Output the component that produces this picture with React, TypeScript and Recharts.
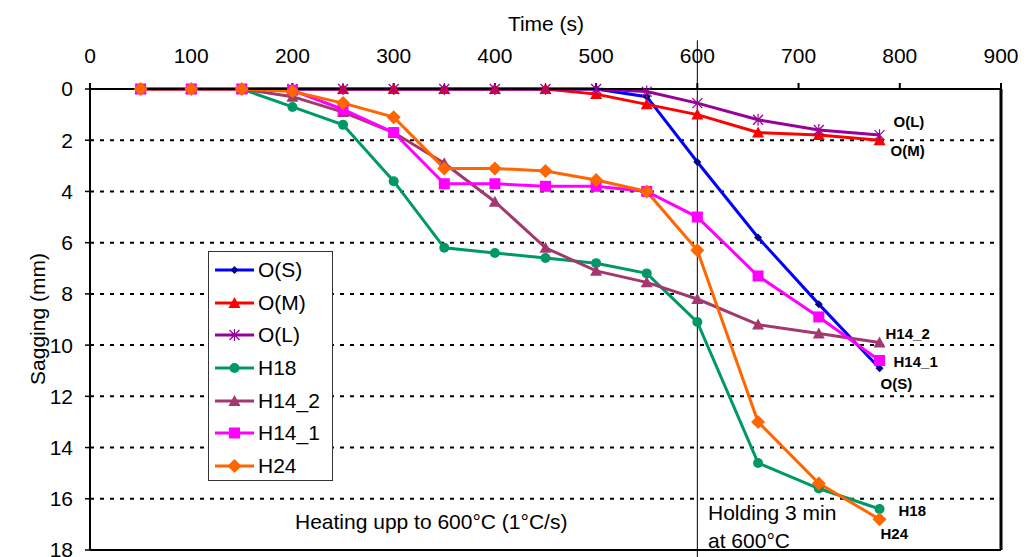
import React from "react";
import { LineChart, Line, XAxis, YAxis, ReferenceLine, LabelList } from "recharts";

const times = [50, 100, 150, 200, 250, 300, 350, 400, 450, 500, 550, 600, 660, 720, 780];
const oS = [0, 0, 0, 0, 0, 0, 0, 0, 0, 0, 0.3, 2.85, 5.8, 8.4, 10.9];
const oM = [0, 0, 0, 0, 0, 0, 0, 0, 0, 0.2, 0.6, 1.0, 1.7, 1.8, 2.0];
const oL = [0, 0, 0, 0, 0, 0, 0, 0, 0, 0, 0.1, 0.55, 1.2, 1.6, 1.8];
const h18 = [0, 0, 0, 0.7, 1.4, 3.6, 6.2, 6.4, 6.6, 6.8, 7.2, 9.1, 14.6, 15.6, 16.4];
const h14_2 = [0, 0, 0, 0.3, 0.9, 1.7, 2.9, 4.4, 6.2, 7.1, 7.55, 8.2, 9.2, 9.55, 9.9];
const h14_1 = [0, 0, 0, 0.05, 0.8, 1.7, 3.7, 3.7, 3.8, 3.8, 4.0, 5.0, 7.3, 8.9, 10.6];
const h24 = [0, 0, 0, 0.1, 0.55, 1.1, 3.1, 3.1, 3.2, 3.55, 4.0, 6.3, 13.0, 15.4, 16.8];

const xTicks = [0, 100, 200, 300, 400, 500, 600, 700, 800, 900];
const yTicks = [0, 2, 4, 6, 8, 10, 12, 14, 16, 18];
const gridValues = [2, 4, 6, 8, 10, 12, 14, 16];

type MarkerKind = "smallDiamond" | "triangle" | "star" | "circle" | "square" | "diamond";

interface SeriesDef {
  key: string;
  name: string;
  color: string;
  markerColor: string;
  marker: MarkerKind;
  values: number[];
  endDx: number;
  endDy: number;
}

const series: SeriesDef[] = [
  { key: "oS", name: "O(S)", color: "#0000ff", markerColor: "#000080", marker: "smallDiamond", values: oS, endDx: 1, endDy: 21 },
  { key: "oM", name: "O(M)", color: "#ff0000", markerColor: "#ff0000", marker: "triangle", values: oM, endDx: 11, endDy: 16 },
  { key: "oL", name: "O(L)", color: "#990099", markerColor: "#990099", marker: "star", values: oL, endDx: 14, endDy: -8 },
  { key: "h18", name: "H18", color: "#009966", markerColor: "#009966", marker: "circle", values: h18, endDx: 19, endDy: 7 },
  { key: "h14_2", name: "H14_2", color: "#a3386f", markerColor: "#a3386f", marker: "triangle", values: h14_2, endDx: 6, endDy: -4 },
  { key: "h14_1", name: "H14_1", color: "#ff00ff", markerColor: "#ff00ff", marker: "square", values: h14_1, endDx: 14, endDy: 7 },
  { key: "h24", name: "H24", color: "#ff6600", markerColor: "#ff6600", marker: "diamond", values: h24, endDx: 1, endDy: 20 },
];

const rows = times.map((t, i) => {
  const row: Record<string, number> = { t };
  series.forEach((s) => {
    row[s.key] = s.values[i];
  });
  return row;
});

function Marker({ kind, cx, cy, color }: { kind: MarkerKind; cx: number; cy: number; color: string }) {
  switch (kind) {
    case "smallDiamond":
      return <path d={`M${cx},${cy - 4}L${cx + 4},${cy}L${cx},${cy + 4}L${cx - 4},${cy}Z`} fill={color} />;
    case "triangle":
      return <path d={`M${cx},${cy - 6}L${cx + 6},${cy + 5}L${cx - 6},${cy + 5}Z`} fill={color} />;
    case "star":
      return (
        <g stroke={color} strokeWidth={1.2}>
          <line x1={cx - 5} y1={cy - 5} x2={cx + 5} y2={cy + 5} />
          <line x1={cx - 5} y1={cy + 5} x2={cx + 5} y2={cy - 5} />
          <line x1={cx} y1={cy - 6} x2={cx} y2={cy + 6} />
        </g>
      );
    case "circle":
      return <circle cx={cx} cy={cy} r={5} fill={color} />;
    case "square":
      return <rect x={cx - 5.5} y={cy - 5.5} width={11} height={11} fill={color} />;
    case "diamond":
      return <path d={`M${cx},${cy - 7}L${cx + 7},${cy}L${cx},${cy + 7}L${cx - 7},${cy}Z`} fill={color} />;
  }
  return null;
}

function makeDot(s: SeriesDef) {
  return (props: any) => {
    const { cx, cy, index } = props;
    return (
      <g key={`${s.key}-dot-${index}`}>
        <Marker kind={s.marker} cx={cx} cy={cy} color={s.markerColor} />
      </g>
    );
  };
}

function makeEndLabel(s: SeriesDef) {
  return (props: any) => {
    const { x, y, index } = props;
    if (index !== times.length - 1) return null;
    return (
      <text
        x={x + s.endDx}
        y={y + s.endDy}
        fontSize={15}
        fontWeight="bold"
        fill="#000"
        fontFamily="'Liberation Sans', Arial, sans-serif"
      >
        {s.name}
      </text>
    );
  };
}

function LegendBox() {
  return (
    <div
      style={{
        position: "absolute",
        left: 208,
        top: 251,
        border: "1px solid #333",
        background: "#fff",
        width: 125,
        height: 230,
        padding: "2px 0 0 6px",
        boxSizing: "border-box",
      }}
    >
      {series.map((s) => (
        <div key={s.key} style={{ display: "flex", alignItems: "center", height: 32.6 }}>
          <svg width={40} height={16}>
            <line x1={0} y1={8} x2={39} y2={8} stroke={s.color} strokeWidth={3} />
            <Marker kind={s.marker} cx={19.5} cy={8} color={s.markerColor} />
          </svg>
          <span style={{ fontSize: 21, marginLeft: 3, color: "#000" }}>{s.name}</span>
        </div>
      ))}
    </div>
  );
}

const textStyle: React.CSSProperties = {
  position: "absolute",
  fontFamily: "'Liberation Sans', Arial, sans-serif",
  color: "#000",
  whiteSpace: "nowrap",
  lineHeight: 1,
};

export default function App() {
  return (
    <div
      style={{
        position: "absolute",
        left: 0,
        top: 0,
        width: 1027,
        height: 557,
        background: "#fff",
        overflow: "hidden",
        fontFamily: "'Liberation Sans', Arial, sans-serif",
      }}
    >
      <LineChart
        width={1027}
        height={557}
        data={rows}
        margin={{ top: 49, right: 26, bottom: 7, left: 30 }}
      >
        <XAxis
          dataKey="t"
          type="number"
          orientation="top"
          domain={[0, 900]}
          ticks={xTicks}
          height={40}
          stroke="#000"
          axisLine={{ stroke: "#000", strokeWidth: 2 }}
          tickLine={{ stroke: "#000", strokeWidth: 2 }}
          tickSize={6}
          tickMargin={20}
          tick={{ fill: "#000", fontSize: 21 }}
          interval={0}
        />
        <YAxis
          type="number"
          reversed
          domain={[0, 18]}
          ticks={yTicks}
          width={60}
          stroke="#000"
          axisLine={{ stroke: "#000", strokeWidth: 2 }}
          tickLine={{ stroke: "#000", strokeWidth: 1.5 }}
          tickSize={5}
          tickMargin={12}
          tick={{ fill: "#000", fontSize: 21 }}
          interval={0}
        />
        {gridValues.map((v) => (
          <ReferenceLine key={`g${v}`} y={v} stroke="#000" strokeWidth={2} strokeDasharray="4 6" />
        ))}
        <ReferenceLine x={900} stroke="#000" strokeWidth={3} />
        <ReferenceLine y={18} stroke="#000" strokeWidth={2} />
        <ReferenceLine
          segment={[
            { x: 600, y: -1.9 },
            { x: 600, y: 18.5 },
          ]}
          stroke="#000"
          strokeWidth={1}
          ifOverflow="visible"
        />
        {series.map((s) => (
          <Line
            key={s.key}
            dataKey={s.key}
            name={s.name}
            stroke={s.color}
            strokeWidth={3}
            dot={makeDot(s)}
            activeDot={false}
            isAnimationActive={false}
            type="linear"
          >
            <LabelList dataKey={s.key} content={makeEndLabel(s)} />
          </Line>
        ))}
      </LineChart>
      <LegendBox />
      <div style={{ ...textStyle, left: 546, top: 13, fontSize: 21, transform: "translateX(-50%)" }}>Time (s)</div>
      <div
        style={{
          ...textStyle,
          left: 37,
          top: 319,
          fontSize: 21,
          transform: "translate(-50%, -50%) rotate(-90deg)",
        }}
      >
        Sagging (mm)
      </div>
      <div style={{ ...textStyle, left: 295, top: 511, fontSize: 21 }}>Heating upp to 600°C (1°C/s)</div>
      <div style={{ ...textStyle, left: 708, top: 502, fontSize: 21 }}>Holding 3 min</div>
      <div style={{ ...textStyle, left: 708, top: 530, fontSize: 21 }}>at 600°C</div>
    </div>
  );
}
